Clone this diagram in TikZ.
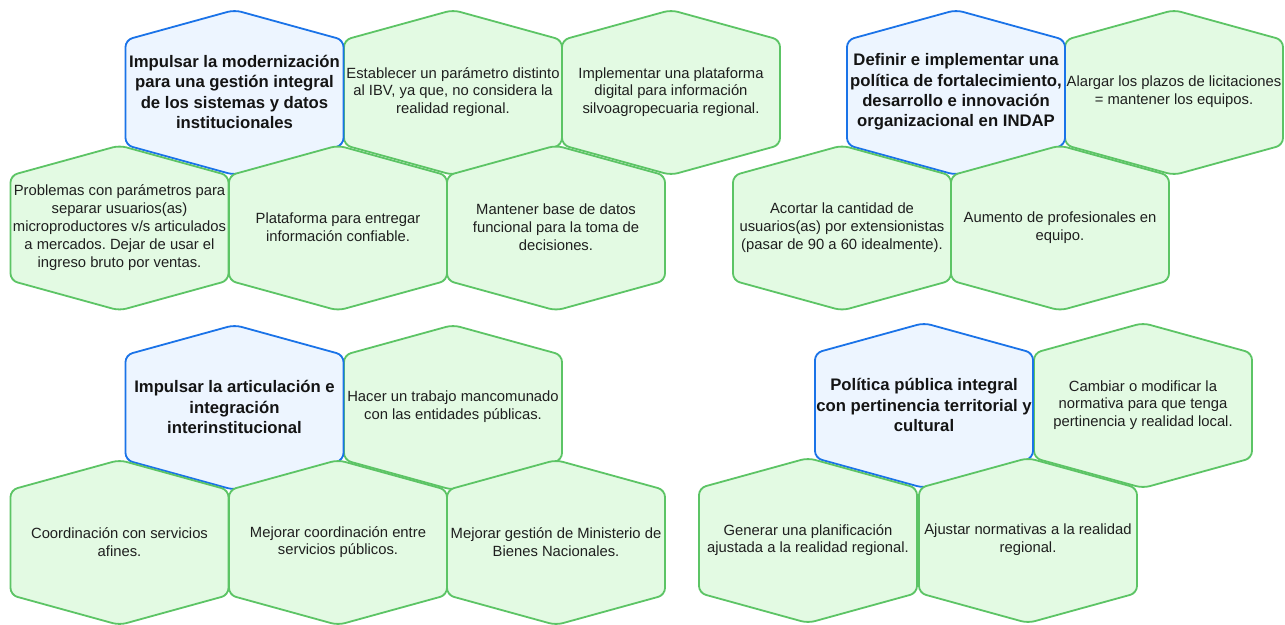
\documentclass[tikz,border=0pt]{standalone}
\usepackage{fontspec}
\setmainfont{Liberation Sans}
\usepackage{tikz}
\frenchspacing

\definecolor{hexblueline}{HTML}{1A73E8}
\definecolor{hexbluefill}{HTML}{EDF5FF}
\definecolor{hexgreenline}{HTML}{5CC465}
\definecolor{hexgreenfill}{HTML}{E3FAE3}

\tikzset{
	cellgreen/.style={draw=hexgreenline, fill=hexgreenfill, line width=1.8pt, rounded corners=7pt, line join=round},
	cellblue/.style={draw=hexblueline, fill=hexbluefill, line width=1.8pt, rounded corners=7pt, line join=round},
	txtgreen/.style={align=center, inner sep=0pt, text=black!88, font=\fontsize{14.8}{17.8}\selectfont},
	txtblue/.style={align=center, inner sep=0pt, text=black!92, font=\bfseries\fontsize{16.7}{20.2}\selectfont}
}

\newcommand{\hexcell}[5]{%
	\draw[cell#1] (#3,#4) ++(0,-82.5) -- ++(109,30) -- ++(0,105) -- ++(-109,30) -- ++(-109,-30) -- ++(0,-105) -- cycle;
	\node[txt#1] (#2) at (#3,#4-0.5) {#5};
}

\begin{document}
\begin{tikzpicture}[x=1pt, y=-1pt]
	\useasboundingbox[fill=white] (0,0) rectangle (1285,624);
	
	\hexcell{green}{establecer}{453}{92.5}{Establecer un parámetro distinto\\al IBV, ya que, no considera la\\realidad regional.}
	\hexcell{green}{implementar}{671}{92.5}{Implementar una plataforma\\digital para información\\silvoagropecuaria regional.}
	\hexcell{blue}{modernizacion}{234.5}{92.5}{Impulsar la modernización\\para una gestión integral\\de los sistemas y datos\\institucionales}
	\hexcell{green}{problemas}{119.5}{228}{Problemas con parámetros para\\separar usuarios(as)\\microproductores v/s articulados\\a mercados. Dejar de usar el\\ingreso bruto por ventas.}
	\hexcell{green}{plataforma}{338}{228}{Plataforma para entregar\\información confiable.}
	\hexcell{green}{mantener}{556}{228}{Mantener base de datos\\funcional para la toma de\\decisiones.}
	
	\hexcell{green}{alargar}{1174}{92.5}{Alargar los plazos de licitaciones\\= mantener los equipos.}
	\hexcell{blue}{definir}{956}{92.5}{Definir e implementar una\\política de fortalecimiento,\\desarrollo e innovación\\organizacional en INDAP}
	\hexcell{green}{acortar}{842}{228}{Acortar la cantidad de\\usuarios(as) por extensionistas\\(pasar de 90 a 60 idealmente).}
	\hexcell{green}{aumento}{1060}{228}{Aumento de profesionales en\\equipo.}
	
	\hexcell{green}{hacer}{453}{407.5}{Hacer un trabajo mancomunado\\con las entidades públicas.}
	\hexcell{blue}{articulacion}{234.5}{407.5}{Impulsar la articulación e\\integración\\interinstitucional}
	\hexcell{green}{coordinacion}{119.5}{542.5}{Coordinación con servicios\\afines.}
	\hexcell{green}{mejorarcoord}{338}{542.5}{Mejorar coordinación entre\\servicios públicos.}
	\hexcell{green}{mejorargestion}{556}{542.5}{Mejorar gestión de Ministerio de\\Bienes Nacionales.}
	
	\hexcell{green}{cambiar}{1143}{405.5}{Cambiar o modificar la\\normativa para que tenga\\pertinencia y realidad local.}
	\hexcell{blue}{politica}{924}{405.5}{Política pública integral\\con pertinencia territorial y\\cultural}
	\hexcell{green}{generar}{808}{540.5}{Generar una planificación\\ajustada a la realidad regional.}
	\hexcell{green}{ajustar}{1028}{540.5}{Ajustar normativas a la realidad\\regional.}
\end{tikzpicture}
\end{document}
